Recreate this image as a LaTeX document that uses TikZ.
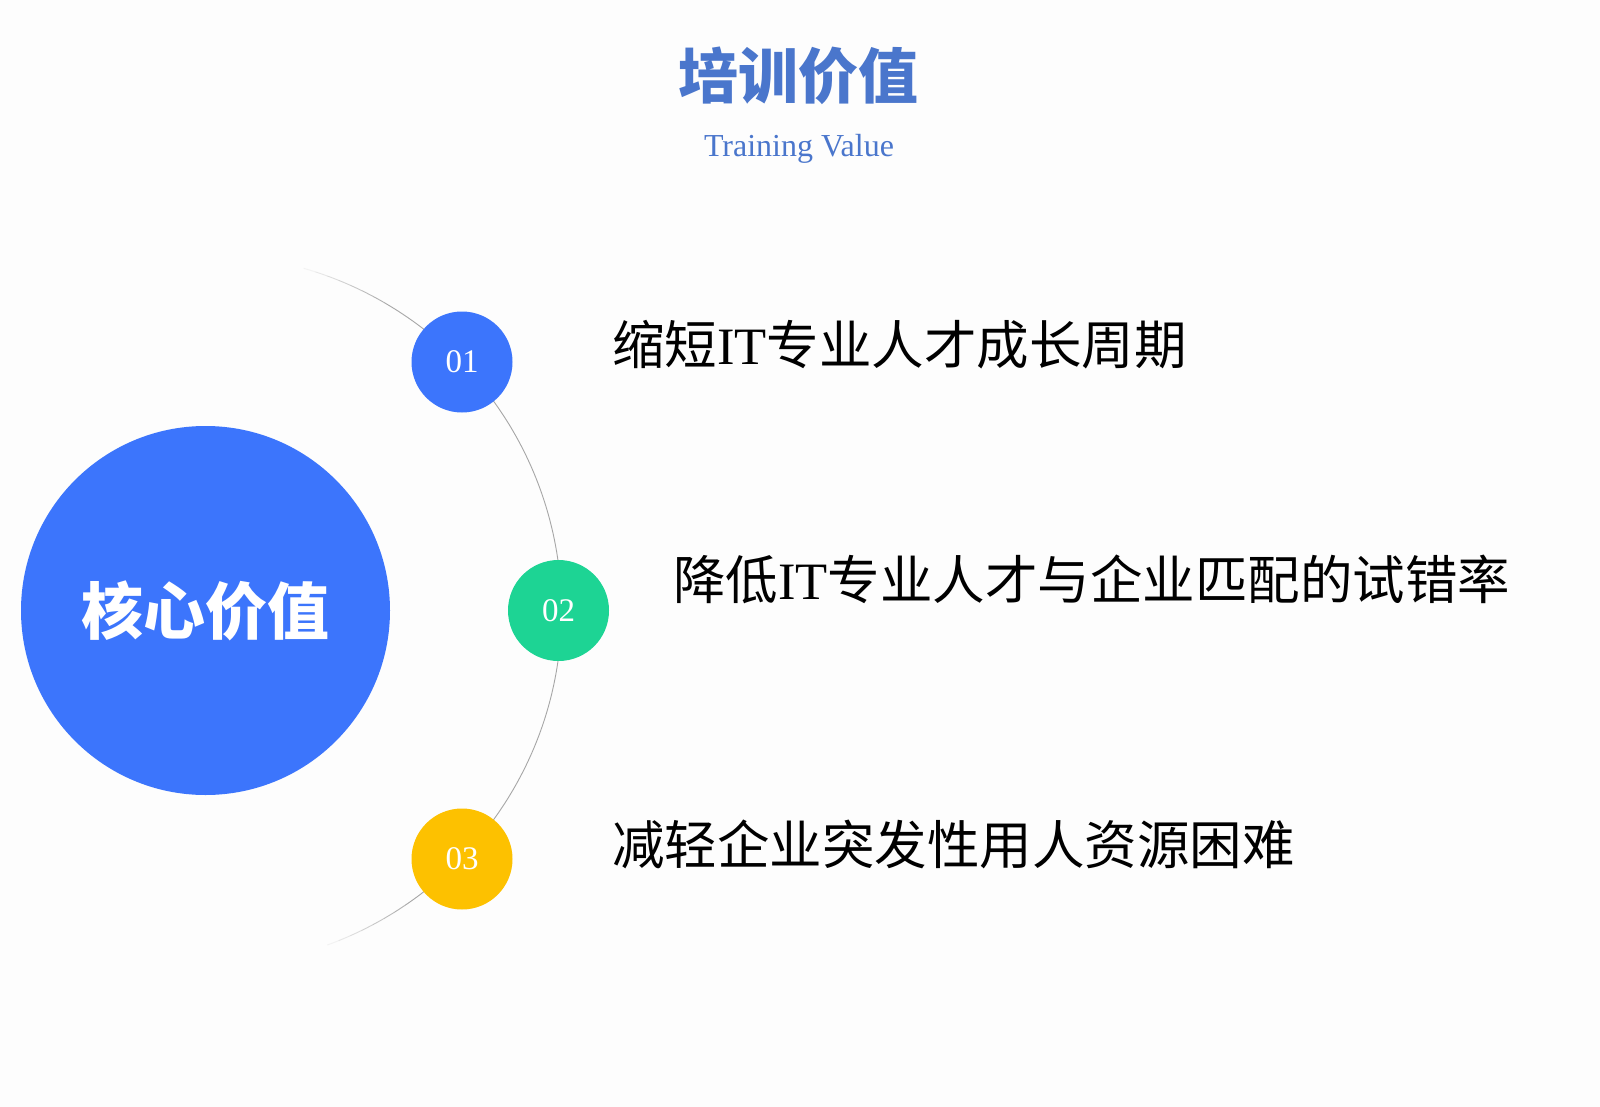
\documentclass[tikz,border=0pt]{standalone}
\usepackage{fontspec}
\newfontfamily\cjk{Noto Sans CJK SC}
\newfontfamily\libserif{Liberation Serif}
\definecolor{bgc}{HTML}{FDFDFD}
\definecolor{titleblue}{HTML}{4A76CC}
\definecolor{cblue}{HTML}{3C75FC}
\definecolor{cgreen}{HTML}{1DD494}
\definecolor{cyellow}{HTML}{FDC100}
\definecolor{arcgray}{HTML}{A6A6A6}
\tikzset{
  numdot/.style={circle, inner sep=0pt, minimum size=101pt, text=white,
    font=\libserif\fontsize{33}{33}\selectfont},
  itemtext/.style={anchor=base west, inner sep=0pt, text=black,
    font=\cjk\fontsize{52.5}{52.5}\selectfont},
  ring/.style={draw=arcgray, line width=0.9pt}
}
\begin{document}
\begin{tikzpicture}[x=1pt,y=-1pt]
\fill[bgc] (0,0) rectangle (1600,1107);
\useasboundingbox (0,0) rectangle (1600,1107);
\coordinate (ctr) at (205.5,610.5);
% arc
\draw[ring] (ctr) ++(-60:356) arc[start angle=-60, end angle=56, radius=356];
\foreach \i in {0,...,6}{
  \pgfmathsetmacro{\op}{1-(\i+1)/8}
  \draw[ring, draw opacity=\op] (ctr) ++({-60-2*\i}:356) arc[start angle={-60-2*\i}, end angle={-62-2*\i}, radius=356];
  \draw[ring, draw opacity=\op] (ctr) ++({56+2*\i}:356) arc[start angle={56+2*\i}, end angle={58+2*\i}, radius=356];
}
% title
\node[anchor=base, inner sep=0pt, text=titleblue, font=\cjk\bfseries\fontsize{60}{60}\selectfont] (title) at (798,99) {培训价值};
\node[anchor=base, inner sep=0pt, text=titleblue, font=\libserif\fontsize{32}{32}\selectfont] (subtitle) at (799,157) {Training Value};
% core circle
\node[circle, fill=cblue, inner sep=0pt, minimum size=369pt, text=white,
  font=\cjk\bfseries\fontsize{62}{62}\selectfont] (core) at (ctr) {核心价值};
% numbered dots
\node[numdot, fill=cblue] (n1) at (462,362) {01};
\node[numdot, fill=cgreen] (n2) at (558.5,610.5) {02};
\node[numdot, fill=cyellow] (n3) at (462,859) {03};
% item texts
\node[itemtext] (t1) at (612,364) {缩短{\libserif IT}专业人才成长周期};
\node[itemtext] (t2) at (673,599) {降低{\libserif IT}专业人才与企业匹配的试错率};
\node[itemtext] (t3) at (612,864) {减轻企业突发性用人资源困难};
\end{tikzpicture}
\end{document}
